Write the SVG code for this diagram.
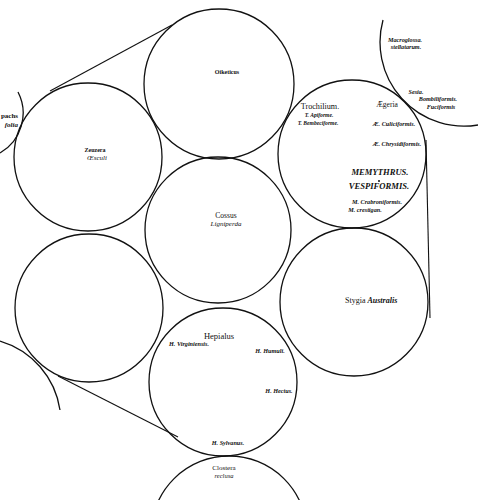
<svg xmlns="http://www.w3.org/2000/svg" width="478" height="500" viewBox="0 0 478 500">
<style>
.c{fill:none;stroke:#111;stroke-width:1.3}
.l{fill:none;stroke:#111;stroke-width:1.1}
text{font-family:"Liberation Serif","DejaVu Serif",serif;fill:#111;text-anchor:middle}
.g{font-size:7.5px}
.gb{font-size:6px;font-weight:bold}
.i{font-style:italic}
.s{font-size:6.2px;font-weight:bold;font-style:italic}
.m{font-size:8.6px;font-weight:bold;font-style:italic}
</style>
<rect width="478" height="500" fill="#fff"/>
<g id="connectors">
<line class="l" x1="50" y1="91" x2="172" y2="25"/>
<line class="l" x1="426" y1="140" x2="430" y2="318"/>
<line class="l" x1="58" y1="376" x2="178" y2="437"/>
</g>
<g id="gastropacha">
<path class="c" d="M 18 92 A 46 46 0 0 1 0 153"/>
<text x="18" y="118" style="text-anchor:end;font-size:7px;font-weight:bold">pachs</text>
<text x="18" y="127" style="text-anchor:end;font-size:7px;font-weight:bold;font-style:italic">folia</text>
</g>
<g id="macroglossa">
<path class="c" d="M 383 20 A 84 84 0 0 0 478 125"/>
<text class="s" x="405" y="42">Macroglossa.</text>
<text class="s" x="406" y="49">stellatarum.</text>
<text class="s" x="416" y="94">Sesia.</text>
<text class="s" x="438" y="101">Bombiliformis.</text>
<text class="s" x="441" y="109">Fuciformis</text>
</g>
<g id="left-lower-arc">
<path class="c" d="M 0 341 A 85 85 0 0 1 60 410"/>
</g>
<g id="oiketicus">
<circle class="c" cx="219" cy="84" r="75"/>
<text class="gb" x="227" y="74">Oiketicus</text>
</g>
<g id="zeuzera">
<circle class="c" cx="88" cy="157" r="74"/>
<text class="gb" x="95" y="152">Zeuzera</text>
<text class="g i" x="97" y="160" style="font-size:7px">Œsculi</text>
</g>
<g id="trochilium">
<circle class="c" cx="352" cy="154" r="74"/>
<text class="g" x="320" y="109" style="font-size:8.2px">Trochilium.</text>
<text class="s" x="319" y="117" style="font-size:5.6px">T. Apiforme.</text>
<text class="s" x="318" y="125" style="font-size:5.6px">T. Bembeciforme.</text>
<text class="g" x="387" y="107" style="font-size:7.5px">Ægeria</text>
<text class="s" x="394" y="126">Æ. Culiciformis.</text>
<text class="s" x="397" y="146">Æ. Chrysidiformis.</text>
<text class="m" x="380" y="175">MEMYTHRUS.</text>
<circle cx="379" cy="181" r="1" fill="#111"/>
<text class="m" x="379" y="189">VESPIFORMIS.</text>
<text class="s" x="377" y="204">M. Crabroniformis.</text>
<text class="s" x="365" y="212">M. crestigan.</text>
</g>
<g id="cossus">
<circle class="c" cx="218" cy="230" r="73"/>
<text class="g" x="226" y="218">Cossus</text>
<text class="g i" x="226" y="226" style="font-size:7px">Ligniperda</text>
</g>
<g id="left-lower">
<circle class="c" cx="89" cy="308" r="74"/>
</g>
<g id="stygia">
<circle class="c" cx="354" cy="302" r="74"/>
<text class="g" x="345" y="303" style="text-anchor:start;font-size:8px">Stygia <tspan font-style="italic" font-weight="bold">Australis</tspan></text>
</g>
<g id="hepialus">
<circle class="c" cx="223" cy="382" r="74"/>
<text class="g" x="219" y="339" style="font-size:8.5px">Hepialus</text>
<text class="s" x="189" y="346">H. Virginiensis.</text>
<text class="s" x="270" y="353">H. Humuli.</text>
<text class="s" x="279" y="393">H. Hectus.</text>
<text class="s" x="228" y="445">H. Sylvanus.</text>
</g>
<g id="clostera">
<circle class="c" cx="229" cy="534" r="78"/>
<text class="g" x="224" y="470" style="font-size:7px">Clostera</text>
<text class="g i" x="224" y="478" style="font-size:6.5px">reclusa</text>
</g>
</svg>
